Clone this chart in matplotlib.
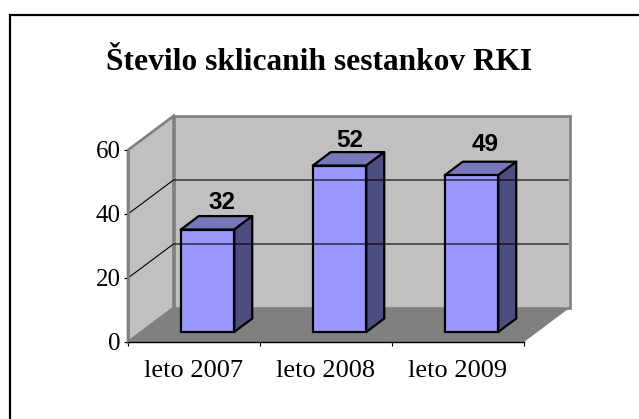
import matplotlib
matplotlib.use("Agg")
import matplotlib.pyplot as plt
from matplotlib.lines import Line2D
from matplotlib.patches import Polygon, Rectangle

# podatki
categories = ["leto 2007", "leto 2008", "leto 2009"]
values = [32, 52, 49]
y_ticks = [0, 20, 40, 60]
title = "Število sklicanih sestankov RKI"

W, H = 639, 419
plt.rcParams["font.family"] = ["Liberation Serif", "DejaVu Serif"]

fig = plt.figure(figsize=(W / 100, H / 100), dpi=100)
# okvir slike: samo levo in zgoraj, ostalo je odrezano
fig.add_artist(Line2D([10 / W, 10 / W, 1], [0, 1 - 15.3 / H, 1 - 15.3 / H], transform=fig.transFigure,
                      color="black", linewidth=1.6, solid_joinstyle="miter"))

# osi = sprednja ravnina 3D grafa
ax = fig.add_axes([128 / W, 1 - 342 / H, 396 / W, 192 / H])
ax.set_xlim(0, 3)
ax.set_ylim(0, 60)
ax.patch.set_visible(False)

# globina v enotah podatkov
dx = 45.5 / 132
dy = 34 / 3.2
# stolpci stojijo malo za sprednjo ravnino
bar_x = 13.5 / 132
bar_y = 10 / 3.2
bar_dx = 18 / 132
bar_dy = 13.5 / 3.2
bar_w = 53.5 / 132
# popravek oznak v točkah
label_shift = [(4, -1.5), (0.7, -3), (3.6, 1.5)]


def poly(pts, **kw):
    ax.add_patch(Polygon(pts, closed=True, clip_on=False, **kw))


# stena zadaj, stena levo, tla
poly([(dx, dy), (3 + dx, dy), (3 + dx, 60 + dy), (dx, 60 + dy)], facecolor="#c0c0c0",
     edgecolor="#808080", linewidth=1.9)
poly([(0, 0), (dx, dy), (dx, 60 + dy), (0, 60)], facecolor="#c0c0c0", edgecolor="#808080", linewidth=1.9)
poly([(0, 0), (3, 0), (3 + dx, dy), (dx, dy)], facecolor="#808080", edgecolor="none")

# mreža
for t in y_ticks[1:-1]:
    ax.plot([0, dx, 3 + dx - 0.01], [t, t + dy, t + dy], color="black", linewidth=0.8, clip_on=False)

# stolpci
for i, v in enumerate(values):
    x0 = i + 0.5 - bar_w / 2 + bar_x
    x1 = x0 + bar_w
    y0 = bar_y
    y1 = v + bar_y
    poly([(x0, y1), (x1, y1), (x1 + bar_dx, y1 + bar_dy), (x0 + bar_dx, y1 + bar_dy)],
         facecolor="#7777bb", edgecolor="black", linewidth=1.6, joinstyle="round")
    poly([(x1, y0), (x1 + bar_dx, y0 + bar_dy), (x1 + bar_dx, y1 + bar_dy), (x1, y1)],
         facecolor="#4d4d80", edgecolor="black", linewidth=1.6, joinstyle="round")
    ax.add_patch(Rectangle((x0, y0), bar_w, v, facecolor="#9999ff", edgecolor="black",
                           linewidth=1.6, clip_on=False))
    ax.annotate(str(v), (x0 + (bar_w + bar_dx) / 2, y1 + bar_dy + 1.2), xytext=label_shift[i],
                textcoords="offset points", ha="center", va="bottom", annotation_clip=False,
                family=["Liberation Sans"], fontweight="bold", fontsize=17.5, color="black")

# osi
for s in ["top", "right"]:
    ax.spines[s].set_visible(False)
ax.spines["left"].set_color("#808080")
ax.spines["left"].set_linewidth(1.9)
ax.spines["bottom"].set_linewidth(1)
ax.set_yticks(y_ticks)
ax.set_xticks([0, 1, 2, 3])
ax.set_xticklabels([])
ax.set_xticks([0.5, 1.5, 2.5], minor=True)
ax.set_xticklabels(categories, minor=True, fontsize=19)
ax.tick_params(axis="x", which="minor", length=0, pad=13)
ax.tick_params(axis="x", which="major", length=3, width=0.8)
ax.tick_params(axis="y", length=3, width=0.8, labelsize=18, pad=2.2)

fig.text(319.5 / W, 1 - 62 / H, title, ha="center", va="center", fontsize=22.6, fontweight="bold")

fig.savefig("out.png", dpi=100)
